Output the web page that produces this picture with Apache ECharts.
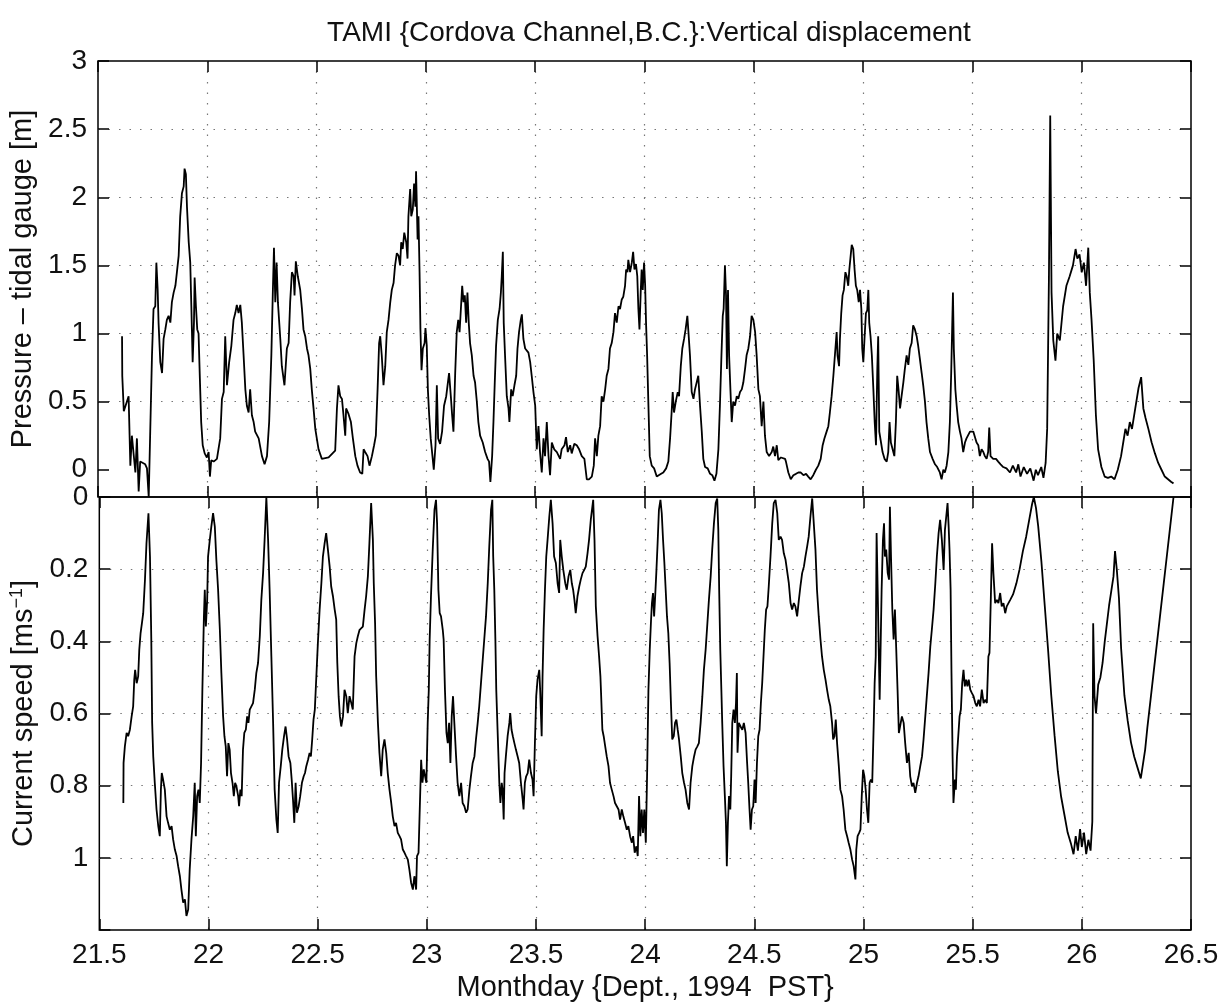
<!DOCTYPE html>
<html><head><meta charset="utf-8">
<script src="https://cdn.jsdelivr.net/npm/echarts@6/dist/echarts.min.js"></script>
<style>html,body{margin:0;padding:0;background:#fff}#c{width:1225px;height:1006px}</style>
</head><body><div id="c"></div>
<script>
// ---- data (day of month, value) ----
const pT = [21.610,21.611,21.618,21.625,21.640,21.648,21.655,21.671,21.678,21.686,21.693,21.716,21.724,21.732,21.747,21.754,21.762,21.767,21.773,21.777,21.785,21.793,21.800,21.808,21.815,21.823,21.831,21.838,21.846,21.854,21.861,21.869,21.876,21.884,21.892,21.896,21.902,21.907,21.915,21.922,21.927,21.933,21.939,21.942,21.948,21.954,21.960,21.966,21.972,21.979,21.988,21.998,22.006,22.012,22.018,22.029,22.044,22.059,22.067,22.075,22.082,22.090,22.100,22.110,22.120,22.128,22.135,22.143,22.151,22.158,22.166,22.174,22.181,22.189,22.196,22.204,22.212,22.219,22.235,22.250,22.262,22.273,22.283,22.293,22.300,22.305,22.311,22.317,22.323,22.334,22.341,22.353,22.364,22.372,22.379,22.387,22.395,22.399,22.405,22.414,22.425,22.433,22.440,22.448,22.456,22.463,22.471,22.478,22.486,22.494,22.509,22.524,22.555,22.585,
22.593,22.600,22.608,22.616,22.623,22.631,22.635,22.646,22.657,22.666,22.677,22.687,22.699,22.709,22.715,22.722,22.733,22.742,22.753,22.763,22.771,22.779,22.786,22.791,22.798,22.806,22.814,22.821,22.829,22.837,22.844,22.852,22.859,22.867,22.875,22.882,22.887,22.894,22.901,22.910,22.916,22.920,22.928,22.933,22.940,22.946,22.952,22.955,22.962,22.966,22.971,22.975,22.980,22.986,22.994,22.998,23.004,23.009,23.015,23.022,23.030,23.036,23.044,23.050,23.056,23.065,23.074,23.083,23.093,23.099,23.106,23.114,23.120,23.126,23.134,23.141,23.148,23.154,23.160,23.166,23.172,23.178,23.184,23.190,23.196,23.202,23.210,23.218,23.225,23.233,23.240,23.248,23.260,23.271,23.282,23.289,23.295,23.303,23.309,23.315,23.321,23.329,23.337,23.343,23.347,23.352,23.356,23.362,23.370,23.378,23.382,23.390,23.397,23.405,23.413,23.419,23.426,23.434,23.439,23.446,23.454,23.461,23.469,23.477,23.484,23.492,23.500,23.507,23.515,23.522,23.530,23.538,23.545,23.553,23.561,23.568,23.576,23.587,23.599,23.614,
23.621,23.634,23.641,23.649,23.660,23.667,23.679,23.690,23.701,23.713,23.725,23.736,23.746,23.759,23.768,23.774,23.782,23.789,23.797,23.804,23.812,23.820,23.827,23.835,23.842,23.850,23.858,23.865,23.873,23.881,23.888,23.896,23.903,23.911,23.916,23.922,23.926,23.934,23.942,23.948,23.954,23.961,23.967,23.972,23.977,23.983,23.987,23.992,23.998,24.003,24.007,24.012,24.018,24.024,24.033,24.044,24.056,24.063,24.076,24.086,24.099,24.109,24.117,24.124,24.129,24.135,24.143,24.152,24.158,24.166,24.173,24.181,24.188,24.196,24.201,24.208,24.216,24.224,24.231,24.239,24.246,24.254,24.262,24.269,24.277,24.289,24.300,24.310,24.320,24.329,24.338,24.345,24.352,24.358,24.362,24.368,24.373,24.377,24.382,24.387,24.393,24.399,24.406,24.414,24.422,24.429,24.437,24.445,24.452,24.460,24.467,24.475,24.483,24.490,24.498,24.506,24.513,24.521,24.528,24.536,24.544,24.551,24.559,24.570,24.582,24.589,24.597,24.605,24.612,24.624,24.643,
24.647,24.658,24.669,24.681,24.693,24.704,24.714,24.727,24.739,24.749,24.760,24.772,24.784,24.795,24.806,24.815,24.823,24.833,24.841,24.848,24.856,24.864,24.871,24.879,24.883,24.890,24.894,24.900,24.906,24.912,24.919,24.925,24.932,24.937,24.943,24.948,24.955,24.961,24.967,24.973,24.980,24.986,24.992,24.996,25.001,25.007,25.013,25.019,25.024,25.028,25.034,25.040,25.047,25.053,25.059,25.065,25.069,25.074,25.082,25.089,25.098,25.108,25.115,25.121,25.127,25.135,25.143,25.150,25.156,25.162,25.169,25.176,25.184,25.191,25.199,25.207,25.214,25.222,25.229,25.237,25.245,25.252,25.260,25.268,25.275,25.283,25.290,25.298,25.306,25.318,25.329,25.339,25.351,25.359,25.367,25.374,25.382,25.390,25.397,25.403,25.408,25.411,25.415,25.422,25.428,25.435,25.443,25.450,25.458,25.466,25.473,25.481,25.489,25.496,25.504,25.512,25.519,25.527,25.534,25.542,25.550,25.557,25.565,25.572,25.577,25.583,25.595,25.608,25.618,25.629,25.641,25.656,25.672,
25.685,25.700,25.710,25.720,25.735,25.750,25.765,25.780,25.790,25.800,25.815,25.825,25.835,25.842,25.850,25.856,25.862,25.870,25.880,25.888,25.900,25.915,25.930,25.945,25.960,25.972,25.980,25.990,26.000,26.010,26.020,26.030,26.037,26.045,26.055,26.065,26.075,26.090,26.105,26.120,26.135,26.150,26.165,26.180,26.190,26.200,26.210,26.220,26.230,26.245,26.260,26.272,26.282,26.292,26.305,26.320,26.335,26.350,26.365,26.380,26.395,26.410,26.420];
const pV = [0.98,0.69,0.43,0.44,0.54,0.03,0.25,-0.02,0.23,-0.16,0.06,0.04,0.01,-0.2,0.84,1.18,1.2,1.52,1.32,1.08,0.79,0.71,0.96,1.03,1.1,1.13,1.08,1.23,1.3,1.35,1.45,1.57,1.86,2.03,2.08,2.21,2.17,1.93,1.67,1.52,1.2,0.79,1.08,1.41,1.2,1.03,1.0,0.67,0.35,0.18,0.12,0.09,0.13,-0.05,0.07,0.06,0.08,0.23,0.52,0.57,0.98,0.62,0.79,0.91,1.1,1.15,1.21,1.15,1.21,1.08,0.84,0.59,0.47,0.42,0.59,0.4,0.35,0.28,0.23,0.1,0.04,0.1,0.35,0.84,1.32,1.63,1.23,1.52,1.23,0.96,0.76,0.62,0.89,0.93,1.23,1.45,1.42,1.28,1.53,1.42,1.32,1.18,1.03,0.98,0.89,0.84,0.74,0.59,0.45,0.3,0.15,0.08,0.09,0.14,
0.45,0.62,0.54,0.52,0.4,0.25,0.45,0.41,0.35,0.23,0.1,0.03,-0.02,-0.03,0.15,0.13,0.1,0.03,0.1,0.18,0.25,0.59,0.93,0.98,0.84,0.62,0.76,1.01,1.1,1.23,1.32,1.37,1.5,1.59,1.57,1.5,1.67,1.62,1.74,1.67,1.55,1.86,2.06,1.86,1.91,2.1,1.93,2.19,1.69,1.86,1.45,1.03,0.73,0.89,0.93,1.04,0.91,0.59,0.4,0.23,0.1,0.0,0.18,0.62,0.23,0.19,0.28,0.47,0.54,0.62,0.71,0.54,0.4,0.28,0.71,1.01,1.1,1.01,1.18,1.35,1.23,1.28,1.08,1.3,1.08,0.93,0.84,0.69,0.64,0.5,0.35,0.25,0.2,0.13,0.08,0.06,-0.09,0.1,0.35,0.64,0.91,1.1,1.18,1.3,1.42,1.6,1.08,0.84,0.54,0.45,0.35,0.59,0.54,0.62,0.69,0.89,1.01,1.1,1.14,0.96,0.89,0.89,0.86,0.79,0.69,0.57,0.47,0.15,0.32,0.13,-0.02,0.23,0.1,0.35,0.1,-0.04,0.2,0.15,0.13,0.08,
0.15,0.18,0.24,0.13,0.18,0.12,0.19,0.18,0.15,0.1,0.08,-0.07,-0.07,-0.05,0.03,0.23,0.1,0.25,0.32,0.54,0.5,0.59,0.69,0.74,0.89,0.93,1.01,1.15,1.08,1.2,1.18,1.25,1.27,1.35,1.47,1.45,1.54,1.45,1.52,1.6,1.47,1.51,1.42,1.18,1.03,1.32,1.47,1.32,1.52,1.35,1.08,0.84,0.47,0.1,0.03,0.01,-0.05,-0.05,-0.03,-0.02,0.01,0.06,0.23,0.42,0.57,0.42,0.5,0.57,0.54,0.76,0.89,0.96,1.03,1.13,1.01,0.84,0.57,0.52,0.59,0.59,0.69,0.47,0.28,0.08,0.02,0.01,-0.03,-0.04,-0.08,-0.03,0.15,0.47,0.84,1.13,1.18,1.5,1.28,0.74,1.32,0.84,0.59,0.35,0.5,0.47,0.54,0.52,0.57,0.59,0.64,0.74,0.84,0.89,0.98,1.13,1.1,1.01,0.84,0.59,0.54,0.32,0.5,0.25,0.13,0.1,0.13,0.17,0.1,0.18,0.07,0.09,0.08,
0.06,-0.02,-0.07,-0.04,-0.03,-0.02,-0.02,-0.04,-0.03,-0.05,-0.07,-0.04,0.0,0.03,0.08,0.18,0.23,0.28,0.32,0.42,0.54,0.69,0.84,1.01,0.84,0.76,0.96,1.15,1.28,1.32,1.45,1.42,1.35,1.47,1.57,1.65,1.62,1.47,1.35,1.32,1.23,1.32,1.18,0.89,0.79,0.98,1.15,1.17,1.32,1.08,0.98,0.84,0.59,0.35,0.18,0.74,0.98,0.28,0.2,0.13,0.08,0.06,0.13,0.35,0.2,0.15,0.1,0.35,0.69,0.59,0.45,0.54,0.64,0.74,0.84,0.77,0.89,0.93,1.06,1.03,0.98,0.91,0.81,0.71,0.62,0.5,0.35,0.23,0.13,0.08,0.04,0.02,-0.02,-0.07,0.0,-0.02,0.03,0.13,0.35,0.71,1.08,1.3,0.89,0.59,0.47,0.35,0.28,0.23,0.13,0.2,0.23,0.23,0.28,0.29,0.28,0.27,0.2,0.18,0.1,0.15,0.13,0.1,0.08,0.13,0.31,0.1,0.08,0.08,0.06,0.04,0.02,0.01,-0.02,
0.03,-0.02,0.04,-0.05,0.02,-0.03,0.01,-0.08,0.0,-0.04,0.02,-0.06,0.05,0.3,1.4,2.6,1.3,0.95,0.8,1.0,0.95,1.2,1.35,1.42,1.5,1.62,1.55,1.58,1.45,1.52,1.35,1.63,1.3,1.1,0.8,0.4,0.15,0.02,-0.05,-0.06,-0.05,-0.07,0.0,0.1,0.2,0.3,0.25,0.35,0.3,0.45,0.6,0.68,0.45,0.38,0.3,0.2,0.12,0.05,0.0,-0.05,-0.07,-0.09,-0.1];

const sT = [21.610,21.611,21.617,21.625,21.632,21.640,21.648,21.655,21.660,21.664,21.671,21.678,21.683,21.689,21.695,21.701,21.709,21.716,21.725,21.732,21.738,21.742,21.747,21.754,21.762,21.770,21.777,21.782,21.786,21.792,21.800,21.808,21.815,21.823,21.831,21.838,21.846,21.854,21.861,21.869,21.876,21.884,21.892,21.899,21.907,21.914,21.922,21.930,21.937,21.942,21.948,21.954,21.960,21.966,21.972,21.979,21.983,21.988,21.994,21.998,22.006,22.013,22.021,22.029,22.036,22.044,22.052,22.059,22.067,22.073,22.079,22.085,22.091,22.097,22.103,22.110,22.116,22.122,22.128,22.136,22.140,22.146,22.152,22.158,22.164,22.171,22.177,22.183,22.189,22.198,22.204,22.212,22.219,22.227,22.235,22.242,22.250,22.257,22.265,22.273,22.280,22.288,22.296,22.303,22.311,22.317,22.323,22.331,22.338,22.346,22.353,22.360,22.367,22.375,22.381,22.387,22.393,22.399,22.405,22.413,22.420,22.428,22.436,22.442,22.448,22.456,22.463,22.469,22.475,22.481,22.487,22.494,22.501,22.509,22.517,22.524,22.532,22.539,22.547,22.555,22.562,22.570,22.578,22.585,
22.590,22.596,22.602,22.608,22.616,22.623,22.631,22.638,22.646,22.654,22.661,22.669,22.677,22.684,22.692,22.699,22.707,22.715,22.722,22.730,22.737,22.745,22.753,22.757,22.763,22.768,22.776,22.783,22.791,22.798,22.806,22.814,22.821,22.829,22.837,22.844,22.852,22.859,22.867,22.875,22.882,22.890,22.898,22.905,22.913,22.920,22.928,22.936,22.943,22.951,22.955,22.962,22.968,22.974,22.980,22.986,22.992,22.998,23.004,23.009,23.013,23.019,23.027,23.035,23.042,23.047,23.053,23.059,23.065,23.073,23.077,23.083,23.090,23.096,23.102,23.108,23.114,23.120,23.126,23.134,23.141,23.149,23.157,23.164,23.172,23.180,23.187,23.195,23.202,23.210,23.218,23.225,23.233,23.240,23.248,23.256,23.263,23.271,23.279,23.286,23.294,23.300,23.304,23.309,23.314,23.318,23.324,23.332,23.337,23.343,23.347,23.352,23.356,23.362,23.370,23.378,23.382,23.388,23.394,23.401,23.408,23.416,23.423,23.431,23.439,23.443,23.449,23.455,23.462,23.469,23.477,23.484,23.489,23.495,23.501,23.507,23.515,23.519,23.526,23.530,23.535,23.541,23.547,23.553,23.561,23.568,23.576,23.583,23.591,23.599,23.606,
23.611,23.618,23.625,23.634,23.641,23.649,23.657,23.664,23.670,23.676,23.682,23.690,23.698,23.705,23.713,23.721,23.728,23.736,23.743,23.751,23.762,23.768,23.774,23.782,23.789,23.795,23.798,23.804,23.810,23.817,23.824,23.832,23.839,23.847,23.855,23.862,23.870,23.878,23.885,23.893,23.900,23.908,23.916,23.923,23.931,23.939,23.945,23.952,23.960,23.966,23.972,23.978,23.984,23.990,23.996,24.003,24.009,24.015,24.021,24.027,24.031,24.036,24.041,24.045,24.051,24.057,24.063,24.070,24.076,24.082,24.088,24.094,24.100,24.106,24.112,24.118,24.124,24.131,24.137,24.143,24.149,24.155,24.163,24.170,24.178,24.185,24.193,24.201,24.208,24.216,24.224,24.231,24.239,24.246,24.254,24.262,24.269,24.277,24.285,24.292,24.300,24.307,24.315,24.323,24.330,24.335,24.339,24.344,24.349,24.353,24.359,24.365,24.370,24.374,24.379,24.384,24.390,24.394,24.399,24.405,24.411,24.416,24.420,24.423,24.429,24.437,24.445,24.452,24.460,24.467,24.472,24.478,24.483,24.489,24.495,24.501,24.506,24.512,24.518,24.524,24.530,24.536,24.542,24.548,24.554,24.560,24.566,24.574,24.582,24.589,24.597,24.605,24.612,24.620,24.627,24.635,24.643,
24.658,24.666,24.673,24.681,24.688,24.696,24.704,24.711,24.719,24.727,24.734,24.742,24.749,24.757,24.765,24.772,24.780,24.787,24.795,24.803,24.810,24.818,24.826,24.833,24.841,24.848,24.856,24.861,24.867,24.873,24.879,24.887,24.894,24.902,24.909,24.917,24.925,24.932,24.940,24.948,24.955,24.963,24.967,24.973,24.980,24.986,24.992,24.998,25.004,25.010,25.016,25.022,25.028,25.034,25.040,25.047,25.051,25.056,25.060,25.065,25.069,25.074,25.079,25.083,25.089,25.094,25.098,25.104,25.111,25.117,25.121,25.126,25.132,25.138,25.144,25.150,25.156,25.162,25.169,25.176,25.184,25.191,25.199,25.207,25.214,25.222,25.229,25.237,25.245,25.252,25.260,25.268,25.275,25.283,25.290,25.298,25.306,25.313,25.321,25.329,25.336,25.344,25.351,25.359,25.367,25.373,25.379,25.385,25.390,25.394,25.399,25.403,25.408,25.412,25.419,25.423,25.428,25.434,25.440,25.446,25.452,25.458,25.464,25.470,25.476,25.482,25.489,25.496,25.504,25.512,25.519,25.527,25.534,25.542,25.550,25.557,25.565,25.572,25.577,25.583,25.589,25.595,25.603,25.611,25.618,25.626,25.633,25.641,25.649,25.656,25.672,
25.685,25.700,25.715,25.730,25.745,25.760,25.772,25.780,25.790,25.800,25.815,25.830,25.845,25.860,25.875,25.890,25.905,25.920,25.935,25.950,25.962,25.972,25.982,25.992,26.000,26.010,26.020,26.030,26.040,26.048,26.052,26.058,26.065,26.075,26.085,26.095,26.105,26.115,26.125,26.135,26.145,26.152,26.160,26.170,26.180,26.195,26.210,26.225,26.240,26.255,26.270,26.280,26.290,26.300,26.315,26.330,26.345,26.360,26.375,26.390,26.405,26.420];
const sV = [0.848,0.737,0.691,0.654,0.663,0.645,0.608,0.58,0.506,0.479,0.516,0.497,0.423,0.377,0.35,0.322,0.23,0.128,0.045,0.165,0.395,0.626,0.719,0.792,0.866,0.912,0.94,0.811,0.765,0.783,0.811,0.885,0.903,0.922,0.912,0.949,0.977,0.995,1.023,1.051,1.088,1.124,1.115,1.161,1.143,1.032,0.949,0.885,0.792,0.94,0.829,0.811,0.848,0.737,0.534,0.331,0.257,0.359,0.285,0.165,0.119,0.082,0.045,0.082,0.174,0.257,0.368,0.488,0.608,0.663,0.691,0.774,0.682,0.7,0.765,0.792,0.829,0.792,0.802,0.829,0.857,0.811,0.829,0.7,0.654,0.645,0.608,0.626,0.589,0.589,0.571,0.534,0.488,0.46,0.386,0.285,0.211,0.119,0.001,0.119,0.257,0.442,0.626,0.811,0.894,0.931,0.792,0.746,0.7,0.663,0.636,0.672,0.719,0.737,0.783,0.838,0.903,0.792,0.875,0.857,0.829,0.792,0.774,0.765,0.746,0.728,0.709,0.719,0.672,0.617,0.589,0.497,0.405,0.312,0.239,0.165,0.128,0.1,0.146,0.193,0.248,0.275,0.312,0.34,
0.46,0.552,0.608,0.636,0.608,0.534,0.552,0.599,0.552,0.571,0.589,0.442,0.405,0.386,0.368,0.368,0.359,0.312,0.275,0.22,0.128,0.017,0.119,0.239,0.35,0.497,0.626,0.709,0.774,0.7,0.672,0.709,0.765,0.811,0.848,0.885,0.912,0.903,0.931,0.94,0.949,0.977,0.986,0.995,1.005,1.032,1.069,1.088,1.051,1.088,0.995,0.986,0.857,0.728,0.792,0.755,0.774,0.792,0.626,0.534,0.395,0.275,0.146,0.036,0.008,0.073,0.257,0.322,0.331,0.368,0.395,0.534,0.654,0.682,0.626,0.737,0.608,0.552,0.626,0.719,0.792,0.829,0.792,0.848,0.857,0.875,0.866,0.811,0.774,0.737,0.719,0.672,0.626,0.58,0.516,0.451,0.395,0.331,0.239,0.137,0.036,0.008,0.165,0.257,0.395,0.534,0.645,0.792,0.848,0.792,0.811,0.894,0.765,0.719,0.663,0.626,0.599,0.645,0.663,0.682,0.7,0.719,0.737,0.792,0.838,0.866,0.792,0.774,0.765,0.728,0.765,0.783,0.829,0.682,0.552,0.506,0.479,0.534,0.663,0.497,0.368,0.257,0.165,0.119,0.054,0.008,0.073,0.165,0.183,0.239,0.266,
0.119,0.165,0.202,0.239,0.257,0.22,0.202,0.239,0.257,0.285,0.322,0.275,0.248,0.229,0.211,0.202,0.193,0.156,0.119,0.063,0.008,0.119,0.303,0.386,0.442,0.497,0.543,0.645,0.663,0.691,0.719,0.746,0.792,0.811,0.829,0.848,0.857,0.866,0.894,0.866,0.885,0.903,0.922,0.912,0.94,0.958,0.94,0.986,0.968,0.995,0.829,0.94,0.866,0.931,0.866,0.958,0.765,0.534,0.423,0.34,0.294,0.266,0.331,0.285,0.211,0.128,0.036,0.008,0.045,0.119,0.183,0.257,0.331,0.377,0.46,0.571,0.672,0.663,0.626,0.617,0.645,0.672,0.719,0.765,0.792,0.811,0.848,0.866,0.792,0.746,0.719,0.7,0.691,0.682,0.626,0.552,0.479,0.423,0.35,0.285,0.22,0.146,0.073,0.017,0.004,0.091,0.257,0.423,0.534,0.626,0.746,0.829,0.903,1.023,0.903,0.829,0.866,0.774,0.626,0.589,0.626,0.571,0.488,0.709,0.626,0.636,0.645,0.626,0.654,0.737,0.792,0.866,0.922,0.866,0.857,0.783,0.848,0.737,0.663,0.645,0.571,0.516,0.442,0.368,0.312,0.303,0.248,0.165,0.073,0.017,0.008,0.045,0.119,0.11,0.119,0.156,0.174,
0.239,0.294,0.312,0.294,0.303,0.331,0.285,0.248,0.211,0.193,0.165,0.137,0.11,0.054,0.004,0.008,0.146,0.257,0.331,0.395,0.442,0.479,0.506,0.534,0.562,0.58,0.626,0.672,0.663,0.617,0.682,0.746,0.811,0.829,0.866,0.922,0.94,0.958,0.977,1.005,1.023,1.06,0.977,0.94,0.931,0.922,0.829,0.756,0.774,0.811,0.866,0.903,0.792,0.783,0.792,0.626,0.516,0.442,0.1,0.257,0.395,0.562,0.395,0.257,0.119,0.073,0.165,0.146,0.211,0.229,0.027,0.165,0.312,0.395,0.312,0.423,0.534,0.654,0.654,0.608,0.626,0.682,0.737,0.709,0.774,0.802,0.792,0.82,0.792,0.774,0.746,0.719,0.672,0.608,0.552,0.488,0.414,0.368,0.312,0.239,0.165,0.1,0.063,0.119,0.202,0.091,0.054,0.017,0.082,0.146,0.257,0.488,0.719,0.848,0.783,0.811,0.719,0.663,0.608,0.589,0.516,0.479,0.525,0.506,0.525,0.506,0.534,0.543,0.552,0.571,0.58,0.562,0.58,0.534,0.571,0.562,0.571,0.442,0.432,0.285,0.128,0.211,0.294,0.285,0.294,0.266,0.303,0.294,0.322,0.303,0.285,
0.27,0.24,0.2,0.15,0.11,0.06,0.02,0.0,0.03,0.08,0.18,0.3,0.42,0.55,0.66,0.76,0.83,0.88,0.93,0.96,0.99,0.94,0.98,0.92,0.97,0.93,0.99,0.95,0.98,0.9,0.35,0.55,0.6,0.52,0.5,0.46,0.4,0.35,0.3,0.26,0.22,0.15,0.2,0.28,0.42,0.55,0.62,0.68,0.72,0.75,0.78,0.74,0.7,0.64,0.56,0.48,0.4,0.32,0.24,0.16,0.08,0.0];

const xTicks = [21.5,22,22.5,23,23.5,24,24.5,25,25.5,26,26.5];
const pTicks = [0,0.5,1,1.5,2,2.5,3];
const sTicks = [0,0.2,0.4,0.6,0.8,1];

const FONT = 'Liberation Sans';
const chart = echarts.init(document.getElementById('c'), null, {renderer:'canvas'});
const pData = pT.map((t,i)=>[t,pV[i]]);
const sData = sT.map((t,i)=>[t,sV[i]]);
const grid = [
  {left:98, top:61, width:1093, height:436, show:true, borderColor:'#000', borderWidth:1.5, backgroundColor:'transparent'},
  {left:98, top:497, width:1093, height:433, show:true, borderColor:'#000', borderWidth:1.5, backgroundColor:'transparent'}
];
const dotted = {show:true, showMinLine:false, showMaxLine:false, lineStyle:{color:'#777', width:1.2, type:[1.5,9]}};
const noLine = {show:false, onZero:false};
const tick = {show:true, inside:true, length:11, lineStyle:{color:'#000', width:1.5}};
function xAx(gi, pos, labels, split, name){
  return {type:'value', gridIndex:gi, position:pos, min:21.5, max:26.5, interval:0.5,
    axisLine:noLine, axisTick:tick,
    axisLabel:{show:labels, color:'#111', fontFamily:FONT, fontSize:28, margin:11},
    splitLine: split ? dotted : {show:false},
    name: name||'', nameLocation:'middle', nameGap:43,
    nameTextStyle:{color:'#111', fontFamily:FONT, fontSize:29}};
}
const option = {
  animation:false,
  backgroundColor:'#fff',
  title:{text:'TAMI {Cordova Channel,B.C.}:Vertical displacement', left:644, top:14, textAlign:'center',
    textStyle:{color:'#111', fontFamily:FONT, fontSize:28, fontWeight:'normal'}},
  grid: grid,
  xAxis:[
    xAx(0,'bottom',false,true),
    xAx(0,'top',false,false),
    xAx(1,'bottom',true,true,'Monthday {Dept., 1994  PST}'),
    xAx(1,'top',false,false)
  ],
  yAxis:[
    {type:'value', gridIndex:0, position:'left', min:-0.2, max:3,
     axisLine:noLine,
     axisTick:Object.assign({customValues:pTicks}, tick),
     axisLabel:{show:true, customValues:pTicks, color:'#111', fontFamily:FONT, fontSize:28, margin:11},
     splitLine:dotted,
     name:'Pressure \u2013 tidal gauge [m]', nameLocation:'middle', nameGap:53,
     nameTextStyle:{color:'#111', fontFamily:FONT, fontSize:29}},
    {type:'value', gridIndex:0, position:'right', min:-0.2, max:3,
     axisLine:noLine,
     axisTick:Object.assign({customValues:pTicks}, tick),
     axisLabel:{show:false}, splitLine:{show:false}},
    {type:'value', gridIndex:1, position:'left', min:0, max:1.2, interval:0.2, inverse:true,
     axisLine:noLine, axisTick:tick,
     axisLabel:{show:true, color:'#111', fontFamily:FONT, fontSize:28, margin:11,
       formatter: v => (sTicks.some(s=>Math.abs(s-v)<1e-6) ? String(+v.toFixed(1)) : '')},
     splitLine:dotted,
     name:'Current speed [ms{sup|\u22121}]', nameLocation:'middle', nameGap:53,
     nameTextStyle:{color:'#111', fontFamily:FONT, fontSize:29,
       rich:{sup:{fontFamily:FONT, fontSize:18, verticalAlign:'top', padding:[0,0,14,0], color:'#111'}}}},
    {type:'value', gridIndex:1, position:'right', min:0, max:1.2, interval:0.2, inverse:true,
     axisLine:noLine, axisTick:tick,
     axisLabel:{show:false}, splitLine:{show:false}}
  ],
  series:[
    {type:'line', xAxisIndex:0, yAxisIndex:0, data:pData, showSymbol:false, symbol:'none',
     lineStyle:{color:'#000', width:1.8}, silent:true},
    {type:'line', xAxisIndex:2, yAxisIndex:2, data:sData, showSymbol:false, symbol:'none',
     lineStyle:{color:'#000', width:1.8}, silent:true}
  ]
};
chart.setOption(option);
</script></body></html>
